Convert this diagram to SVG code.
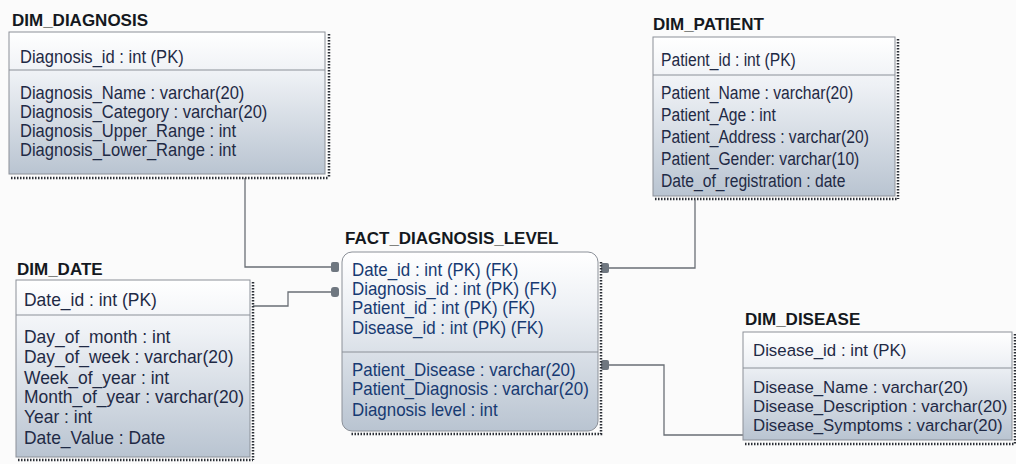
<svg xmlns="http://www.w3.org/2000/svg" width="1016" height="464" viewBox="0 0 1016 464">
<defs>
<linearGradient id="bodyGrad" x1="0" y1="0" x2="0" y2="1">
<stop offset="0" stop-color="#ffffff"/>
<stop offset="0.3" stop-color="#eef1f5"/>
<stop offset="1" stop-color="#b9c4d1"/>
</linearGradient>
<style>
.title{font-family:"Liberation Sans",Arial,sans-serif;font-weight:bold;font-size:17px;fill:#141820}
.t text{font-family:"Liberation Sans",Arial,sans-serif;font-size:18px;fill:#1f2a45}
.t.s text{font-size:17px}
.f text{fill:#173a72}
.body{fill:url(#bodyGrad);stroke:#8b9098;stroke-width:1}
.div{stroke:#8b9098;stroke-width:1}
.shadow{stroke:#2b2f36;stroke-width:2.5;stroke-dasharray:1.5 1.5;fill:none}
.conn{stroke:#6a6f76;stroke-width:1.3;fill:none}
.mk{fill:#6f7780}
</style>
</defs>
<rect width="1016" height="464" fill="#fbfbfb"/>

<g id="connectors">
<path class="conn" d="M245 178 V267 H332"/>
<path class="conn" d="M253 306 H288 V292 H332"/>
<path class="conn" d="M606 268 H695 V200"/>
<path class="conn" d="M606 365 H664 V435 H743"/>
<rect class="mk" x="331" y="262" width="8" height="10" rx="2"/>
<rect class="mk" x="331" y="287" width="8" height="10" rx="3"/>
<rect class="mk" x="601" y="263" width="8" height="10" rx="2"/>
<rect class="mk" x="601" y="360" width="8" height="10" rx="2"/>
</g>

<g id="dim_diagnosis">
<text class="title" x="12" y="26">DIM_DIAGNOSIS</text>
<line class="shadow" x1="329" y1="34" x2="329" y2="178"/>
<line class="shadow" x1="11" y1="178" x2="329" y2="178"/>
<rect class="body" x="9" y="32" width="316" height="142"/>
<line class="div" x1="9" y1="70" x2="325" y2="70"/>
<g class="t" transform="translate(20 0) scale(0.92 1) translate(-20 0)">
<text x="20" y="63">Diagnosis_id : int (PK)</text>
<text x="20" y="99">Diagnosis_Name : varchar(20)</text>
<text x="20" y="118">Diagnosis_Category : varchar(20)</text>
<text x="20" y="137">Diagnosis_Upper_Range : int</text>
<text x="20" y="156">Diagnosis_Lower_Range : int</text>
</g>
</g>

<g id="dim_patient">
<text class="title" x="653" y="30">DIM_PATIENT</text>
<line class="shadow" x1="898" y1="39" x2="898" y2="199"/>
<line class="shadow" x1="655" y1="199" x2="898" y2="199"/>
<rect class="body" x="653" y="37" width="242" height="159"/>
<line class="div" x1="653" y1="75" x2="895" y2="75"/>
<g class="t" transform="translate(661 0) scale(0.87 1) translate(-661 0)">
<text x="661" y="66">Patient_id : int (PK)</text>
<text x="661" y="99">Patient_Name : varchar(20)</text>
<text x="661" y="121">Patient_Age : int</text>
<text x="661" y="143">Patient_Address : varchar(20)</text>
<text x="661" y="165">Patient_Gender: varchar(10)</text>
<text x="661" y="187">Date_of_registration : date</text>
</g>
</g>

<g id="dim_date">
<text class="title" x="17" y="275">DIM_DATE</text>
<line class="shadow" x1="253" y1="282" x2="253" y2="460"/>
<line class="shadow" x1="18" y1="460" x2="253" y2="460"/>
<rect class="body" x="16" y="280" width="234" height="177"/>
<line class="div" x1="16" y1="315" x2="250" y2="315"/>
<g class="t" transform="translate(24 0) scale(0.97 1) translate(-24 0)">
<text x="24" y="306">Date_id : int (PK)</text>
<text x="24" y="343">Day_of_month : int</text>
<text x="24" y="363">Day_of_week : varchar(20)</text>
<text x="24" y="384">Week_of_year : int</text>
<text x="24" y="403">Month_of_year : varchar(20)</text>
<text x="24" y="423">Year : int</text>
<text x="24" y="444">Date_Value : Date</text>
</g>
</g>

<g id="fact_diagnosis_level">
<text class="title" x="345" y="244">FACT_DIAGNOSIS_LEVEL</text>
<path class="shadow" d="M601 262 V434 H350"/>
<rect class="body" x="342" y="252" width="256" height="179" rx="10"/>
<line class="div" x1="342" y1="352" x2="598" y2="352"/>
<g class="t f" transform="translate(352 0) scale(0.94 1) translate(-352 0)">
<text x="352" y="276">Date_id : int (PK) (FK)</text>
<text x="352" y="295">Diagnosis_id : int (PK) (FK)</text>
<text x="352" y="314">Patient_id : int (PK) (FK)</text>
<text x="352" y="334">Disease_id : int (PK) (FK)</text>
<text x="352" y="376">Patient_Disease : varchar(20)</text>
<text x="352" y="395">Patient_Diagnosis : varchar(20)</text>
<text x="352" y="416">Diagnosis level : int</text>
</g>
</g>

<g id="dim_disease">
<text class="title" x="745" y="325">DIM_DISEASE</text>
<line class="shadow" x1="1015" y1="334" x2="1015" y2="444"/>
<line class="shadow" x1="745" y1="444" x2="1015" y2="444"/>
<rect class="body" x="743" y="332" width="269" height="108"/>
<line class="div" x1="743" y1="368" x2="1012" y2="368"/>
<g class="t s" transform="translate(753 0) scale(0.99 1) translate(-753 0)">
<text x="753" y="356">Disease_id : int (PK)</text>
<text x="753" y="393">Disease_Name : varchar(20)</text>
<text x="753" y="412">Disease_Description : varchar(20)</text>
<text x="753" y="431">Disease_Symptoms : varchar(20)</text>
</g>
</g>
</svg>
